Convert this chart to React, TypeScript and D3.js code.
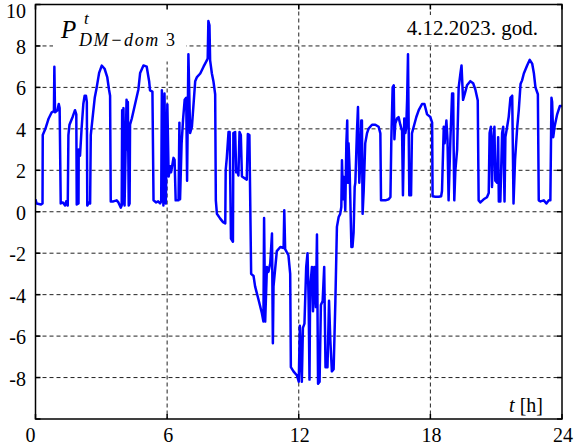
import React, { useRef, useEffect } from "react";
import * as d3 from "d3";

// time of day [h]
const hours = [
  0.0, 0.05, 0.25, 0.32, 0.33, 0.45, 0.6, 0.74, 0.84, 0.86, 0.89, 1.0, 1.06, 1.1, 1.15, 1.25, 1.35, 1.4, 1.47,
  1.5, 1.55, 1.7, 1.8, 1.86, 1.88, 1.96, 1.97, 2.03, 2.1, 2.18, 2.24, 2.3, 2.34, 2.36, 2.45, 2.49, 2.52, 2.6,
  2.7, 2.79, 2.9, 3.02, 3.15, 3.27, 3.35, 3.4, 3.43, 3.55, 3.7, 3.78, 3.89, 3.93, 3.95, 3.99, 4.01, 4.06, 4.15,
  4.18, 4.21, 4.25, 4.29, 4.31, 4.39, 4.54, 4.69, 4.77, 4.92, 5.07, 5.18, 5.22, 5.33, 5.38, 5.5, 5.59, 5.68,
  5.73, 5.76, 5.83, 5.88, 5.94, 6.01, 6.07, 6.14, 6.18, 6.29, 6.34, 6.39, 6.52, 6.56, 6.59, 6.66, 6.73, 6.8,
  6.87, 6.91, 6.97, 7.05, 7.13, 7.28, 7.36, 7.51, 7.66, 7.81, 7.85, 7.88, 7.93, 7.96, 8.04, 8.11, 8.19, 8.22,
  8.27, 8.42, 8.55, 8.65, 8.67, 8.72, 8.8, 8.85, 8.91, 9.0, 9.02, 9.1, 9.15, 9.21, 9.25, 9.3, 9.36, 9.41, 9.56,
  9.63, 9.68, 9.75, 9.83, 9.94, 10.01, 10.17, 10.32, 10.39, 10.42, 10.47, 10.55, 10.62, 10.7, 10.78, 10.82,
  10.85, 10.93, 11.0, 11.16, 11.31, 11.34, 11.38, 11.53, 11.61, 11.64, 11.76, 11.92, 12.0, 12.05, 12.14, 12.19,
  12.26, 12.34, 12.4, 12.45, 12.49, 12.52, 12.6, 12.65, 12.71, 12.78, 12.83, 12.88, 12.95, 13.01, 13.09, 13.16,
  13.22, 13.31, 13.38, 13.44, 13.51, 13.59, 13.67, 13.74, 13.82, 13.89, 13.94, 13.97, 14.02, 14.06, 14.12,
  14.17, 14.21, 14.24, 14.27, 14.32, 14.4, 14.45, 14.5, 14.55, 14.58, 14.65, 14.7, 14.76, 14.81, 14.85, 14.88,
  14.91, 14.96, 15.03, 15.11, 15.18, 15.26, 15.34, 15.49, 15.64, 15.72, 15.75, 15.95, 16.1, 16.18, 16.22, 16.28,
  16.33, 16.36, 16.4, 16.48, 16.55, 16.63, 16.71, 16.75, 16.81, 16.86, 16.9, 16.94, 16.98, 17.04, 17.12, 17.16,
  17.24, 17.36, 17.47, 17.62, 17.73, 17.85, 18.0, 18.08, 18.1, 18.23, 18.38, 18.49, 18.53, 18.61, 18.65, 18.73,
  18.78, 18.83, 18.91, 18.99, 19.04, 19.06, 19.09, 19.14, 19.22, 19.29, 19.37, 19.42, 19.49, 19.57, 19.67,
  19.82, 19.95, 20.05, 20.16, 20.2, 20.28, 20.43, 20.58, 20.66, 20.7, 20.76, 20.81, 20.86, 20.92, 20.96, 21.04,
  21.09, 21.12, 21.19, 21.27, 21.32, 21.38, 21.42, 21.5, 21.57, 21.65, 21.73, 21.79, 21.86, 21.96, 22.03, 22.11,
  22.18, 22.26, 22.41, 22.53, 22.64, 22.72, 22.79, 22.9, 22.94, 23.02, 23.17, 23.29, 23.4, 23.47, 23.52, 23.55,
  23.6, 23.66, 23.78, 23.9, 24.0,
];

// P_DM-dom3 [kW]
const power = [
  0.6, 0.4, 0.35, 0.4, 3.7, 4.0, 4.5, 4.8, 4.85, 7.0, 4.8, 4.9, 5.2, 5.0, 0.4, 0.45, 0.3, 0.5, 0.3,
  3.7, 4.2, 4.6, 4.9, 4.7, 0.35, 0.4, 3.0, 2.7, 4.0, 5.2, 5.6, 5.6, 5.3, 0.3, 0.45, 0.4, 3.7, 4.5,
  5.5, 6.0, 6.7, 7.05, 6.9, 6.5, 5.9, 5.6, 0.5, 0.5, 0.55, 0.45, 0.2, 0.3, 4.9, 0.4, 5.0, 0.3, 5.4,
  3.0, 5.3, 0.3, 0.4, 4.2, 4.5, 5.2, 5.9, 6.7, 7.06, 7.0, 6.3, 5.86, 5.8, 0.55, 0.45, 0.5, 0.4,
  0.5, 5.86, 0.3, 5.7, 0.4, 5.18, 1.7, 2.2, 1.9, 2.6, 2.5, 0.55, 0.55, 4.3, 0.6, 3.3, 4.5, 5.4,
  5.5, 1.5, 7.6, 3.8, 4.1, 6.3, 6.5, 6.67, 7.0, 7.3, 7.4, 9.2, 9.0, 7.3, 6.67, 6.3, 5.67, 0.55,
  -0.1, -0.33, -0.5, -0.56, 2.0, 2.6, 3.85, 3.85, -1.3, -1.45, 3.8, 3.85, 1.9, 1.9, 1.75, 3.85, 3.7, 1.7, 1.6,
  1.55, 3.75, 3.7, -3.0, -3.1, -3.6, -4.26, -4.9, -5.3, -0.3, -5.3, -2.66, -2.9, -2.5, -1.05, -6.35,
  -3.6, -2.7, -1.9, -1.7, -1.75, 0.07, -1.8, -2.1, -3.0, -7.5, -7.7, -7.9, -8.2, -5.5, -8.2, -5.6,
  -5.4, -2.66, -2.0, -4.3, -8.1, -3.7, -2.66, -4.8, -2.66, -4.6, -1.1, -8.3, -8.2, -4.5, -4.3, -2.66,
  -7.5, -7.5, -4.3, -6.2, -7.7, -7.6, -4.3, -0.73, -0.25, -0.1, 0.23, 2.48, 0.6, 1.68, 0.07,
  3.3, 4.4, 1.4, 3.3, 2.0, -1.7, -1.7, -1.0, 1.2, 1.4, 3.78, 5.05, 1.4, 2.5, 4.4, 4.4,
  -0.1, 1.0, 3.3, 3.78, 4.0, 4.1, 4.2, 4.2, 4.1, 3.78, 0.55, 0.55, 0.6, 0.71, 3.45, 6.0,
  6.1, 3.5, 4.25, 4.5, 4.57, 4.2, 3.9, 0.8, 4.5, 3.8, 4.1, 5.4, 7.6, 0.8, 0.8, 3.78,
  4.1, 4.57, 4.9, 5.2, 5.2, 4.7, 4.57, 4.3, 0.75, 0.72, 0.72, 0.75, 1.0, 4.1, 3.3, 4.4,
  3.5, 0.55, 3.4, 5.7, 5.7, 3.2, 0.55, 2.0, 3.0, 6.0, 6.67, 7.06, 5.4, 5.7, 6.1,
  6.3, 6.2, 5.9, 5.37, 0.55, 0.45, 0.6, 0.7, 0.9, 3.8, 4.1, 1.2, 3.4, 4.1, 1.5, 1.4,
  3.6, 0.5, 0.5, 3.8, 4.1, 0.5, 3.6, 4.1, 4.57, 5.5, 5.6, 0.4, 2.5, 4.1, 4.9, 6.16,
  6.34, 6.67, 7.06, 7.33, 7.15, 6.67, 6.0, 5.67, 0.55, 0.5, 0.55, 0.4, 0.55, 0.55, 5.5, 5.3,
  3.6, 4.1, 4.7, 5.1, 5.1,
];

const xTicks = [0, 6, 12, 18, 24];
const yTicks = [-10, -8, -6, -4, -2, 0, 2, 4, 6, 8, 10];
const yLabels = ["", "-8", "-6", "-4", "-2", "0", "2", "4", "6", "8", "10"];
const dateLabel = "4.12.2023. god.";

const App = () => {
  const svgRef = useRef<SVGSVGElement>(null);

  useEffect(() => {
    const width = 574;
    const height = 447;
    const left = 35.5;
    const right = 562;
    const top = 4.5;
    const bottom = 419;

    const svg = d3.select(svgRef.current);
    svg.selectAll("*").remove();
    svg.attr("width", width).attr("height", height).style("background", "white");

    const x = d3.scaleLinear().domain([0, 24]).range([left, right]);
    const y = d3.scaleLinear().domain([-10, 10]).range([bottom, top]);

    const serif = "'Liberation Serif', 'Times New Roman', serif";

    // dashed grid
    const grid = svg.append("g").attr("stroke", "#222").attr("stroke-width", 1).attr("stroke-dasharray", "4,3");
    grid
      .selectAll("line.h")
      .data(yTicks.filter((d) => d > -10 && d < 10))
      .enter()
      .append("line")
      .attr("x1", left)
      .attr("x2", right)
      .attr("y1", (d) => y(d))
      .attr("y2", (d) => y(d));
    grid
      .selectAll("line.v")
      .data(xTicks.filter((d) => d > 0 && d < 24))
      .enter()
      .append("line")
      .attr("y1", top)
      .attr("y2", bottom)
      .attr("x1", (d) => x(d))
      .attr("x2", (d) => x(d));

    // white boxes behind the annotations
    svg.append("rect").attr("x", 53).attr("y", top + 1).attr("width", 133).attr("height", 56).attr("fill", "white");
    svg.append("rect").attr("x", 394).attr("y", 15).attr("width", 152).attr("height", 28).attr("fill", "white");

    // data line
    svg.append("clipPath").attr("id", "plot-clip").append("rect")
      .attr("x", left).attr("y", top).attr("width", right - left).attr("height", bottom - top);

    const line = d3
      .line<number>()
      .x((d, i) => x(hours[i]))
      .y((d) => y(d));

    svg
      .append("path")
      .datum(power)
      .attr("clip-path", "url(#plot-clip)")
      .attr("d", line)
      .attr("fill", "none")
      .attr("stroke", "#0000ff")
      .attr("stroke-width", 2.5)
      .attr("stroke-linejoin", "round");

    // axes box + ticks
    const axes = svg.append("g").attr("stroke", "#000").attr("stroke-width", 1.5);
    axes.append("rect").attr("x", left).attr("y", top).attr("width", right - left).attr("height", bottom - top).attr("fill", "none");
    xTicks.forEach((t) => {
      axes.append("line").attr("x1", x(t)).attr("x2", x(t)).attr("y1", bottom).attr("y2", bottom - 5);
      axes.append("line").attr("x1", x(t)).attr("x2", x(t)).attr("y1", top).attr("y2", top + 5);
    });
    yTicks.forEach((t) => {
      axes.append("line").attr("x1", left).attr("x2", left + 5).attr("y1", y(t)).attr("y2", y(t));
      axes.append("line").attr("x1", right).attr("x2", right - 5).attr("y1", y(t)).attr("y2", y(t));
    });

    // tick labels
    svg
      .selectAll("text.xl")
      .data(xTicks)
      .enter()
      .append("text")
      .attr("x", (d) => (d === 0 ? x(d) - 5 : x(d) + 1))
      .attr("y", 442)
      .attr("text-anchor", "middle")
      .attr("font-family", serif)
      .attr("font-size", 20)
      .text((d) => d);

    svg
      .selectAll("text.yl")
      .data(yTicks)
      .enter()
      .append("text")
      .attr("x", 26)
      .attr("y", (d) => (d === 10 ? 18 : y(d) + 8))
      .attr("text-anchor", "end")
      .attr("font-family", serif)
      .attr("font-size", 20)
      .text((d, i) => yLabels[i]);

    // title P^t_{DM-dom 3}
    svg.append("text").attr("x", 61).attr("y", 38).attr("font-family", serif).attr("font-style", "italic")
      .attr("font-size", 25).text("P");
    svg.append("text").attr("x", 84).attr("y", 24).attr("font-family", serif).attr("font-style", "italic")
      .attr("font-size", 17).text("t");
    const sub = svg.append("text").attr("x", 79).attr("y", 46).attr("font-family", serif)
      .attr("font-size", 18).attr("textLength", 96).attr("lengthAdjust", "spacing");
    sub.append("tspan").attr("font-style", "italic").text("DM\u2212dom ");
    sub.append("tspan").text("3");

    // date
    svg.append("text").attr("x", 538).attr("y", 35).attr("text-anchor", "end").attr("font-family", serif)
      .attr("font-size", 21).text(dateLabel);

    // x axis label
    const xl = svg.append("text").attr("x", 543).attr("y", 412).attr("text-anchor", "end").attr("font-family", serif)
      .attr("font-size", 20);
    xl.append("tspan").attr("font-style", "italic").text("t");
    xl.append("tspan").text(" [h]");
  }, []);

  return (
    <div style={{ position: "absolute", left: 0, top: 0 }}>
      <svg ref={svgRef}></svg>
    </div>
  );
};

export default App;
